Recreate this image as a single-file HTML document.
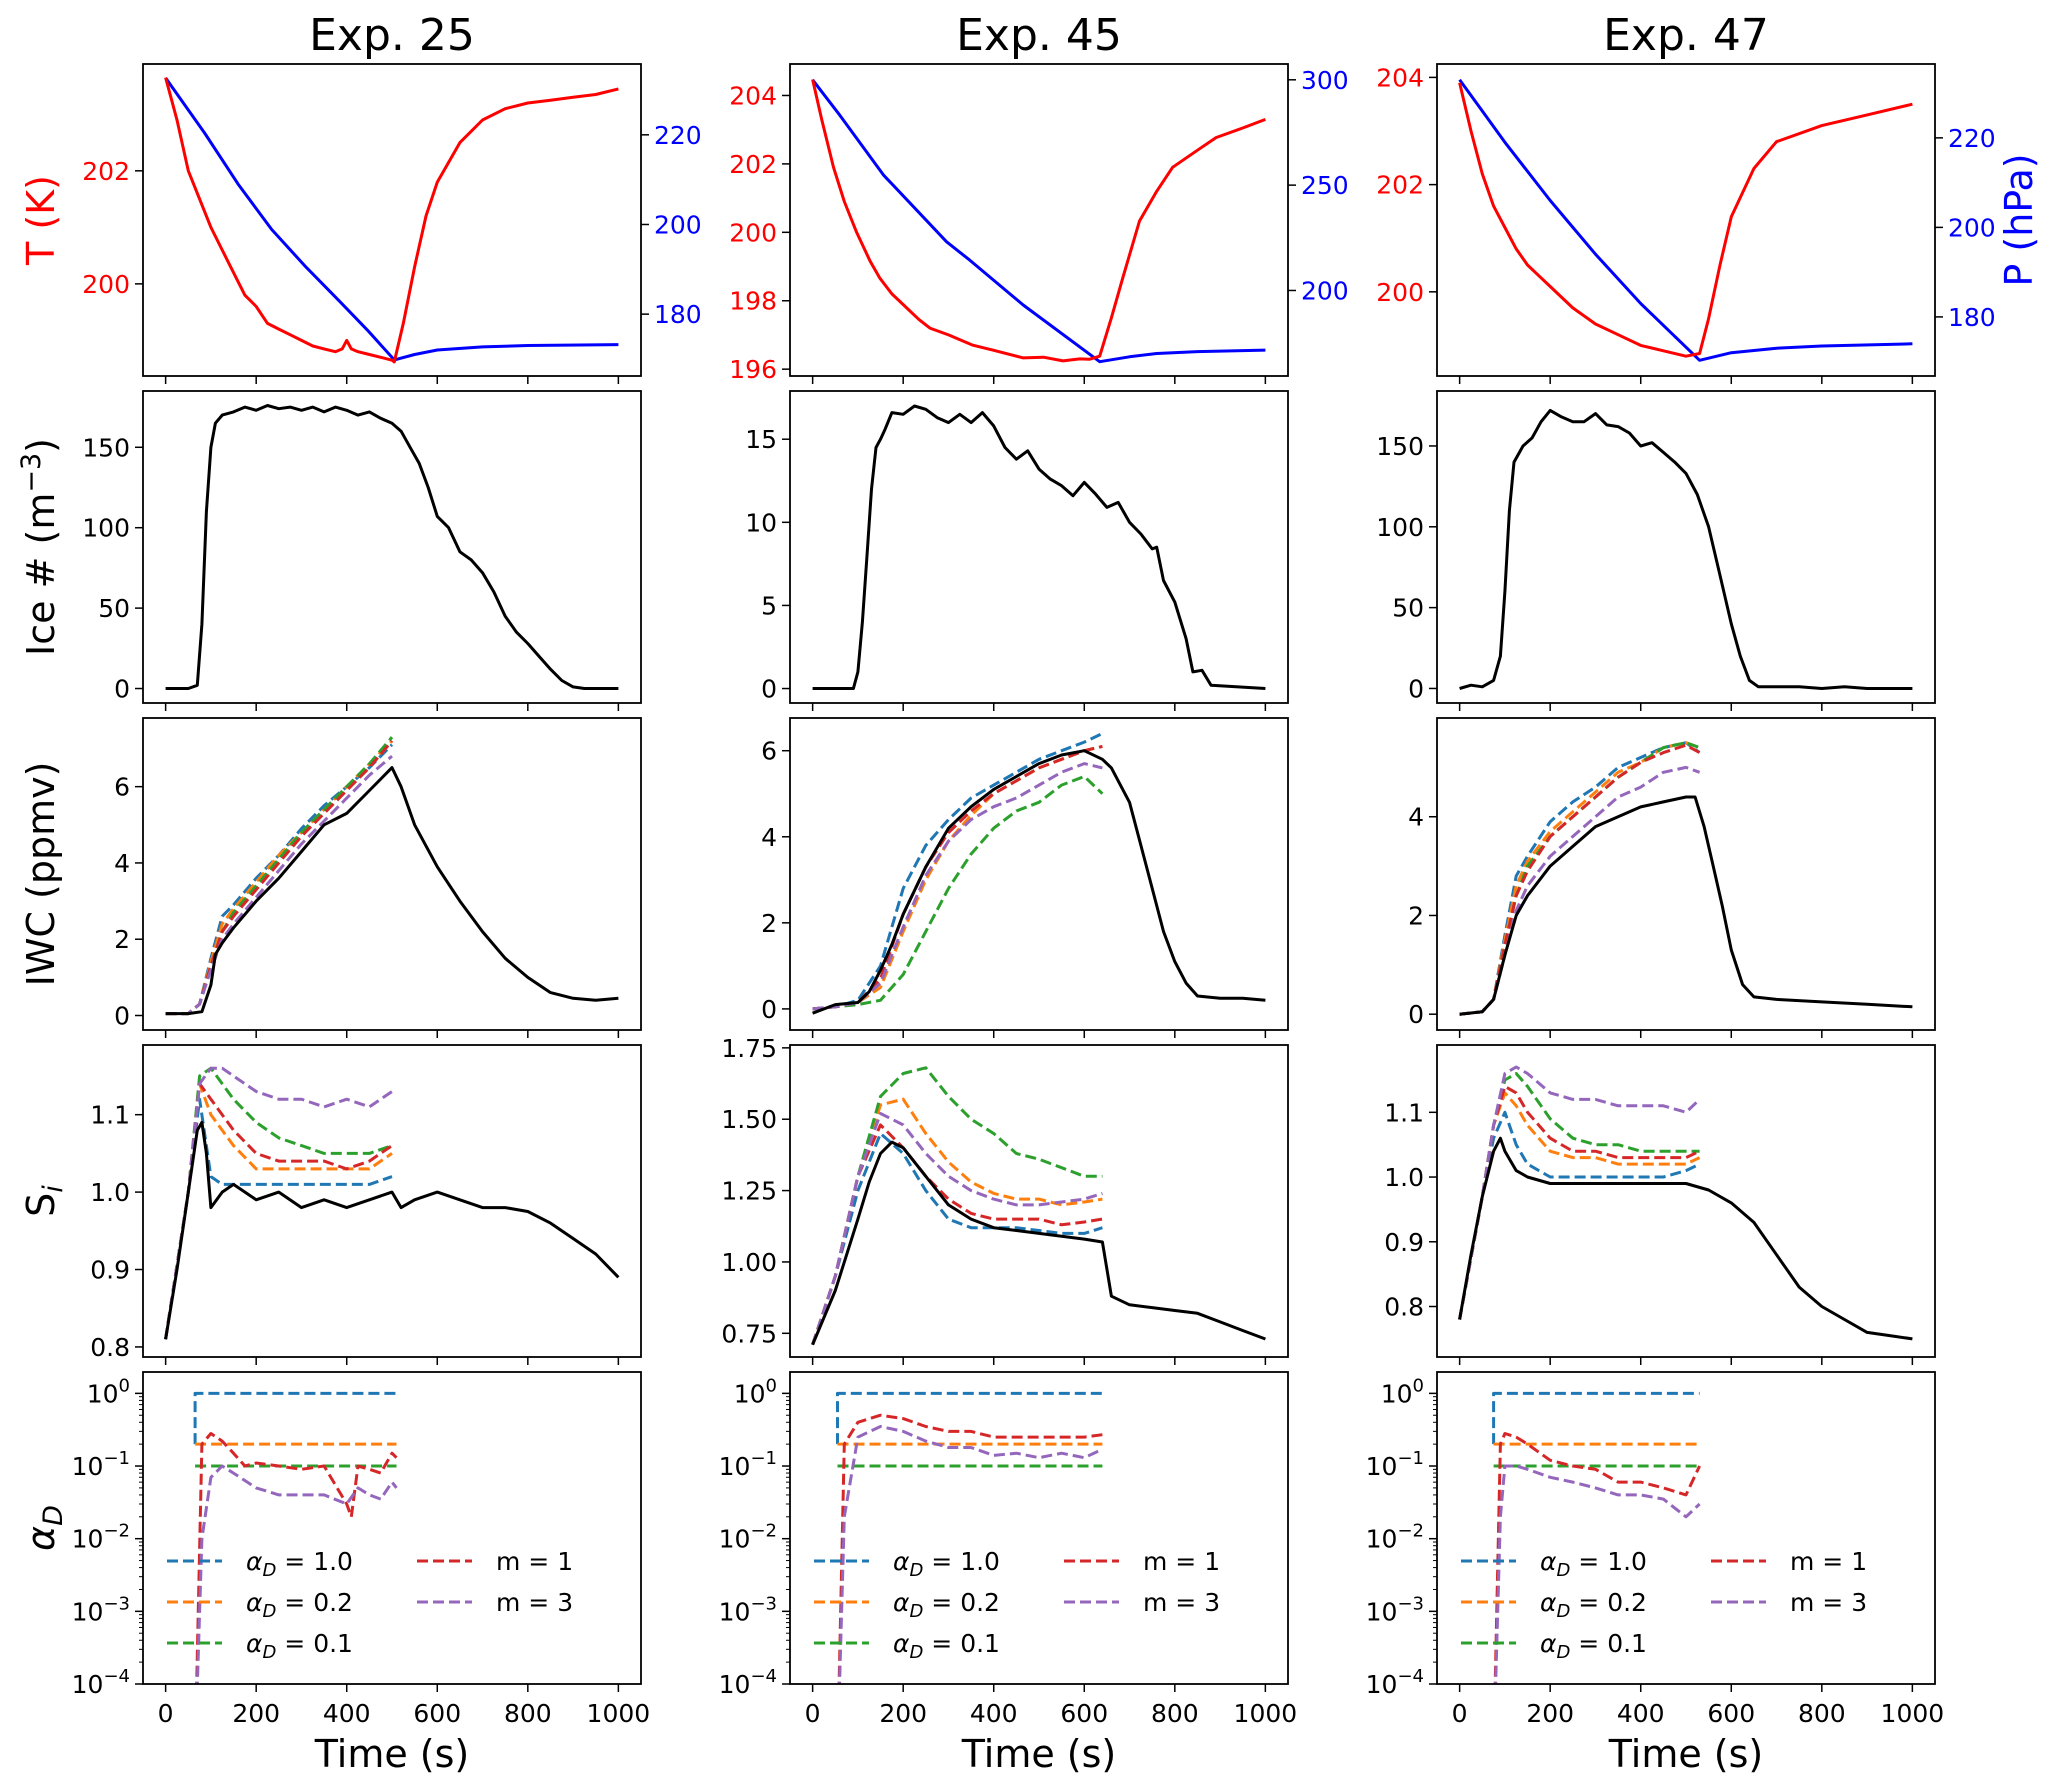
<!DOCTYPE html>
<html><head><meta charset="utf-8"><style>
html,body{margin:0;padding:0;background:#fff}
svg{display:block;font-family:"DejaVu Sans","Liberation Sans",sans-serif}
</style></head><body>
<svg id="fig" xmlns="http://www.w3.org/2000/svg" width="2067" height="1790" viewBox="0 0 2067 1790"></svg>
<script>
// ---------- DATA ----------
const titles = ["Exp. 25","Exp. 45","Exp. 47"];
const xTicks = [0,200,400,600,800,1000];
// Column 1 (Exp. 25)
const c1_T_t = [0,25,50,75,100,125,150,175,200,225,250,275,300,325,350,375,390,400,410,425,450,475,500,505,525,550,575,600,650,700,750,800,850,900,950,1000];
const c1_T_v = [203.65,202.9,202.0,201.5,201.0,200.6,200.2,199.8,199.6,199.3,199.2,199.1,199.0,198.9,198.85,198.8,198.85,199.0,198.85,198.8,198.75,198.7,198.65,198.62,199.3,200.3,201.2,201.8,202.5,202.9,203.1,203.2,203.25,203.3,203.35,203.45];
const c1_P_t = [0,86,160,234,310,383,445,505,550,600,700,800,1000];
const c1_P_v = [232.7,220.4,209,198.9,190.5,183,176.5,169.8,171,172,172.7,173,173.2];
const c1_ice_t = [0,50,70,80,90,100,110,125,150,175,200,225,250,275,300,325,350,375,400,425,450,475,500,520,540,560,580,600,625,650,675,700,725,750,775,800,825,850,875,900,925,950,1000];
const c1_ice_v = [0,0,2,40,110,150,165,170,172,175,173,176,174,175,173,175,172,175,173,170,172,168,165,160,150,140,125,107,100,85,80,72,60,45,35,28,20,12,5,1,0,0,0];
const c1_iwc_t = [0,50,80,100,110,125,150,200,250,300,350,400,450,500,520,550,600,650,700,750,800,850,900,950,1000];
const c1_iwc_v = [0.05,0.05,0.1,0.8,1.6,1.9,2.3,3.0,3.6,4.3,5.0,5.3,5.9,6.5,6.0,5.0,3.9,3.0,2.2,1.5,1.0,0.6,0.45,0.4,0.45];
const c1_mt = [0,50,75,100,125,150,200,250,300,350,400,450,500];
const c1_iwc_a10 = [0.05,0.05,0.3,1.5,2.6,2.9,3.6,4.2,4.9,5.5,6.0,6.5,7.1];
const c1_iwc_a02 = [0.05,0.05,0.3,1.4,2.4,2.8,3.5,4.2,4.8,5.4,6.0,6.6,7.2];
const c1_iwc_a01 = [0.05,0.05,0.3,1.3,2.2,2.7,3.4,4.1,4.8,5.4,6.0,6.6,7.3];
const c1_iwc_m1 = [0.05,0.05,0.3,1.3,2.2,2.6,3.3,4.0,4.7,5.3,5.9,6.5,7.2];
const c1_iwc_m3 = [0.05,0.05,0.3,1.2,2.0,2.4,3.1,3.8,4.5,5.1,5.7,6.3,6.8];
const c1_si_t = [0,25,50,70,80,90,100,125,150,200,250,300,350,400,450,500,520,550,600,650,700,750,800,850,900,950,1000];
const c1_si_v = [0.81,0.9,1.0,1.08,1.09,1.05,0.98,1.0,1.01,0.99,1.0,0.98,0.99,0.98,0.99,1.0,0.98,0.99,1.0,0.99,0.98,0.98,0.975,0.96,0.94,0.92,0.89];
const c1_si_a10 = [0.81,1.0,1.12,1.02,1.01,1.01,1.01,1.01,1.01,1.01,1.01,1.01,1.02];
const c1_si_a02 = [0.81,1.0,1.14,1.1,1.08,1.06,1.03,1.03,1.03,1.03,1.03,1.03,1.05];
const c1_si_a01 = [0.81,1.0,1.15,1.16,1.14,1.12,1.09,1.07,1.06,1.05,1.05,1.05,1.06];
const c1_si_m1 = [0.81,1.0,1.14,1.12,1.1,1.08,1.05,1.04,1.04,1.04,1.03,1.04,1.06];
const c1_si_m3 = [0.81,1.0,1.14,1.16,1.16,1.15,1.13,1.12,1.12,1.11,1.12,1.11,1.13];
const c1_al_t0 = 65, c1_al_end = 510;
const c1_al_m1_t = [65,80,100,125,150,175,200,250,300,350,400,410,425,450,475,500,510];
const c1_al_m1_v = [0.00001,0.2,0.28,0.22,0.15,0.1,0.11,0.1,0.09,0.1,0.03,0.02,0.1,0.09,0.08,0.15,0.13];
const c1_al_m3_t = [65,80,100,125,150,200,250,300,350,400,425,450,475,500,510];
const c1_al_m3_v = [0.00001,0.01,0.07,0.1,0.08,0.05,0.04,0.04,0.04,0.03,0.05,0.04,0.035,0.06,0.05];
// Column 2 (Exp. 45)
const c2_T_t = [0,20,46,70,97,127,148,175,207,235,259,300,354,400,465,510,553,590,612,634,660,685,722,760,795,850,891,950,1000];
const c2_T_v = [204.47,203.3,201.9,200.9,200.0,199.16,198.67,198.2,197.8,197.45,197.2,197.0,196.7,196.55,196.33,196.35,196.24,196.3,196.29,196.38,197.5,198.67,200.33,201.2,201.9,202.4,202.77,203.05,203.3];
const c2_P_t = [0,60,156,296,347,465,634,700,760,850,1000];
const c2_P_v = [300,283.2,254.9,223.1,214.4,193.1,166.2,168.5,170.1,171,171.7];
const c2_ice_t = [0,90,100,110,120,130,140,150,160,175,200,225,250,275,300,325,350,375,400,425,450,475,500,525,550,575,600,625,650,675,700,725,750,760,775,800,825,840,860,880,1000];
const c2_ice_v = [0,0,1,4,8,12,14.5,15,15.6,16.6,16.5,17,16.8,16.3,16,16.5,16,16.6,15.8,14.5,13.8,14.3,13.2,12.6,12.2,11.6,12.4,11.7,10.9,11.2,10,9.3,8.4,8.5,6.5,5.2,3,1,1.1,0.2,0];
const c2_iwc_t = [0,50,100,125,150,175,200,250,300,350,400,450,500,550,600,640,660,700,725,750,775,800,825,850,900,950,1000];
const c2_iwc_v = [-0.1,0.1,0.15,0.4,0.9,1.5,2.2,3.3,4.2,4.7,5.1,5.4,5.7,5.9,6.0,5.8,5.6,4.8,3.8,2.8,1.8,1.1,0.6,0.3,0.25,0.25,0.2];
const c2_mt = [0,50,100,150,200,250,300,350,400,450,500,550,600,640];
const c2_iwc_a10 = [0,0.05,0.2,1.0,2.8,3.8,4.4,4.9,5.2,5.5,5.8,6.0,6.2,6.4];
const c2_iwc_a02 = [0,0.05,0.15,0.5,1.8,3.0,3.9,4.5,5.0,5.3,5.6,5.8,6.0,6.1];
const c2_iwc_a01 = [0,0.05,0.1,0.2,0.8,1.8,2.8,3.6,4.2,4.6,4.8,5.2,5.4,5.0];
const c2_iwc_m1 = [0,0.05,0.15,0.7,2.2,3.3,4.1,4.6,5.0,5.3,5.6,5.8,6.0,6.1];
const c2_iwc_m3 = [0,0.05,0.15,0.6,1.9,3.1,3.9,4.4,4.7,4.9,5.2,5.5,5.7,5.6];
const c2_si_t = [0,50,100,125,150,175,200,250,300,350,400,450,500,550,600,640,660,700,750,800,850,900,950,1000];
const c2_si_v = [0.71,0.9,1.15,1.28,1.38,1.42,1.4,1.3,1.2,1.15,1.12,1.11,1.1,1.09,1.08,1.07,0.88,0.85,0.84,0.83,0.82,0.79,0.76,0.73];
const c2_si_a10 = [0.71,0.95,1.25,1.45,1.38,1.25,1.15,1.12,1.12,1.12,1.11,1.1,1.1,1.12];
const c2_si_a02 = [0.71,0.95,1.3,1.55,1.57,1.45,1.35,1.28,1.24,1.22,1.22,1.2,1.21,1.22];
const c2_si_a01 = [0.71,0.95,1.3,1.58,1.66,1.68,1.58,1.5,1.45,1.38,1.36,1.33,1.3,1.3];
const c2_si_m1 = [0.71,0.95,1.3,1.48,1.4,1.3,1.22,1.17,1.15,1.15,1.15,1.13,1.14,1.15];
const c2_si_m3 = [0.71,0.95,1.3,1.52,1.48,1.38,1.3,1.25,1.22,1.2,1.2,1.21,1.22,1.24];
const c2_al_t0 = 55, c2_al_end = 640;
const c2_al_m1_t = [55,70,100,150,200,250,300,350,400,450,500,550,600,640];
const c2_al_m1_v = [0.00001,0.2,0.4,0.5,0.45,0.35,0.3,0.3,0.25,0.25,0.25,0.25,0.25,0.27];
const c2_al_m3_t = [55,70,100,150,200,250,300,350,400,450,500,550,600,640];
const c2_al_m3_v = [0.00001,0.02,0.25,0.35,0.3,0.22,0.18,0.18,0.14,0.15,0.13,0.15,0.13,0.17];
// Column 3 (Exp. 47)
const c3_T_t = [0,25,50,75,100,125,150,175,200,250,300,350,400,450,500,530,550,575,600,650,700,800,900,1000];
const c3_T_v = [203.9,203.0,202.2,201.6,201.2,200.8,200.5,200.3,200.1,199.7,199.4,199.2,199.0,198.9,198.8,198.85,199.5,200.5,201.4,202.3,202.8,203.1,203.3,203.5];
const c3_P_t = [0,50,100,200,300,400,530,600,700,800,1000];
const c3_P_v = [233,226,219,206,194,183,170.3,172,173,173.5,174];
const c3_ice_t = [0,25,50,75,90,100,110,120,140,160,180,200,225,250,275,300,325,350,375,400,425,450,475,500,525,550,575,600,620,640,660,700,750,800,850,900,1000];
const c3_ice_v = [0,2,1,5,20,60,110,140,150,155,165,172,168,165,165,170,163,162,158,150,152,146,140,133,120,100,70,40,20,5,1,1,1,0,1,0,0];
const c3_iwc_t = [0,50,75,100,125,150,200,250,300,350,400,450,500,520,540,560,580,600,625,650,700,800,900,1000];
const c3_iwc_v = [0,0.05,0.3,1.2,2.0,2.4,3.0,3.4,3.8,4.0,4.2,4.3,4.4,4.4,3.8,3.0,2.2,1.3,0.6,0.35,0.3,0.25,0.2,0.15];
const c3_mt = [0,50,75,100,125,150,200,250,300,350,400,450,500,530];
const c3_iwc_a10 = [0,0.05,0.3,1.6,2.8,3.2,3.9,4.3,4.6,5.0,5.2,5.4,5.5,5.3];
const c3_iwc_a02 = [0,0.05,0.3,1.5,2.6,3.1,3.7,4.1,4.5,4.9,5.1,5.4,5.5,5.4];
const c3_iwc_a01 = [0,0.05,0.3,1.4,2.4,3.0,3.6,4.0,4.4,4.8,5.1,5.4,5.5,5.4];
const c3_iwc_m1 = [0,0.05,0.3,1.4,2.4,2.9,3.6,4.0,4.4,4.8,5.1,5.3,5.45,5.3];
const c3_iwc_m3 = [0,0.05,0.3,1.2,2.1,2.6,3.2,3.6,4.0,4.4,4.6,4.9,5.0,4.9];
const c3_si_t = [0,25,50,75,90,100,125,150,200,250,300,350,400,450,500,550,600,650,700,750,800,850,900,950,1000];
const c3_si_v = [0.78,0.88,0.97,1.04,1.06,1.04,1.01,1.0,0.99,0.99,0.99,0.99,0.99,0.99,0.99,0.98,0.96,0.93,0.88,0.83,0.8,0.78,0.76,0.755,0.75];
const c3_si_a10 = [0.78,0.97,1.06,1.1,1.05,1.02,1.0,1.0,1.0,1.0,1.0,1.0,1.01,1.02];
const c3_si_a02 = [0.78,0.97,1.08,1.13,1.11,1.08,1.04,1.03,1.03,1.02,1.02,1.02,1.02,1.03];
const c3_si_a01 = [0.78,0.97,1.08,1.15,1.16,1.14,1.09,1.06,1.05,1.05,1.04,1.04,1.04,1.04];
const c3_si_m1 = [0.78,0.97,1.08,1.14,1.13,1.1,1.06,1.04,1.04,1.03,1.03,1.03,1.03,1.04];
const c3_si_m3 = [0.78,0.97,1.08,1.16,1.17,1.16,1.13,1.12,1.12,1.11,1.11,1.11,1.1,1.12];
const c3_al_t0 = 75, c3_al_end = 530;
const c3_al_m1_t = [75,90,100,125,150,200,250,300,350,400,450,500,530];
const c3_al_m1_v = [0.00001,0.2,0.28,0.25,0.2,0.12,0.1,0.09,0.06,0.06,0.05,0.04,0.1];
const c3_al_m3_t = [75,90,100,125,150,200,250,300,350,400,450,500,530];
const c3_al_m3_v = [0.00001,0.02,0.1,0.1,0.09,0.07,0.06,0.05,0.04,0.04,0.035,0.02,0.03];
// axis limits & ticks
const tLim = [[198.37,203.89],[195.8,204.92],[198.43,204.25]];
const tTicks = [[200,202],[196,198,200,202,204],[200,202,204]];
const pLim = [[166.2,235.8],[159.4,307.5],[166.8,236.5]];
const pTicks = [[180,200,220],[200,250,300],[180,200,220]];
const iceLim = [[-9,185],[-0.87,17.9],[-9,184]];
const iceTicks = [[0,50,100,150],[0,5,10,15],[0,50,100,150]];
const iwcLim = [[-0.38,7.8],[-0.49,6.76],[-0.32,6.0]];
const iwcTicks = [[0,2,4,6],[0,2,4,6],[0,2,4]];
const siLim = [[0.787,1.19],[0.667,1.76],[0.722,1.204]];
const siTicks = [[0.8,0.9,1.0,1.1],[0.75,1.0,1.25,1.5,1.75],[0.8,0.9,1.0,1.1]];
const siTickLabels = [["0.8","0.9","1.0","1.1"],["0.75","1.00","1.25","1.50","1.75"],["0.8","0.9","1.0","1.1"]];
const alphaExp = [0,-1,-2,-3,-4];
const alphaConst = [1.0,0.2,0.1];

// ---------- DRAWING ----------
const NS="http://www.w3.org/2000/svg";
const svg=document.getElementById('fig');
const colLeft=[143,790,1437], PW=498, rowTop=r=>64+r*327, PH=312;
const C={blue:"#1f77b4",orange:"#ff7f0e",green:"#2ca02c",red:"#d62728",purple:"#9467bd"};
function mk(tag,attrs,parent){const e=document.createElementNS(NS,tag);for(const k in attrs)e.setAttribute(k,attrs[k]);(parent||svg).appendChild(e);return e;}
function txt(s,x,y,size,fill,anchor,parent){const e=mk('text',{x:x,y:y,'font-size':size,fill:fill||'#000','text-anchor':anchor||'middle'},parent);e.textContent=s;return e;}
const D={
 1:{T:[c1_T_t,c1_T_v],P:[c1_P_t,c1_P_v],ice:[c1_ice_t,c1_ice_v],iwc:[c1_iwc_t,c1_iwc_v],mt:c1_mt,iwcM:[c1_iwc_a10,c1_iwc_a02,c1_iwc_a01,c1_iwc_m1,c1_iwc_m3],si:[c1_si_t,c1_si_v],siM:[c1_si_a10,c1_si_a02,c1_si_a01,c1_si_m1,c1_si_m3],t0:c1_al_t0,tend:c1_al_end,m1:[c1_al_m1_t,c1_al_m1_v],m3:[c1_al_m3_t,c1_al_m3_v]},
 2:{T:[c2_T_t,c2_T_v],P:[c2_P_t,c2_P_v],ice:[c2_ice_t,c2_ice_v],iwc:[c2_iwc_t,c2_iwc_v],mt:c2_mt,iwcM:[c2_iwc_a10,c2_iwc_a02,c2_iwc_a01,c2_iwc_m1,c2_iwc_m3],si:[c2_si_t,c2_si_v],siM:[c2_si_a10,c2_si_a02,c2_si_a01,c2_si_m1,c2_si_m3],t0:c2_al_t0,tend:c2_al_end,m1:[c2_al_m1_t,c2_al_m1_v],m3:[c2_al_m3_t,c2_al_m3_v]},
 3:{T:[c3_T_t,c3_T_v],P:[c3_P_t,c3_P_v],ice:[c3_ice_t,c3_ice_v],iwc:[c3_iwc_t,c3_iwc_v],mt:c3_mt,iwcM:[c3_iwc_a10,c3_iwc_a02,c3_iwc_a01,c3_iwc_m1,c3_iwc_m3],si:[c3_si_t,c3_si_v],siM:[c3_si_a10,c3_si_a02,c3_si_a01,c3_si_m1,c3_si_m3],t0:c3_al_t0,tend:c3_al_end,m1:[c3_al_m1_t,c3_al_m1_v],m3:[c3_al_m3_t,c3_al_m3_v]}
};
const modelColors=[C.blue,C.orange,C.green,C.red,C.purple];
const modelNames=['alpha-1','alpha-0.2','alpha-0.1','m-1','m-3'];
const DASH="11,5";
let clipId=0;
function line(g,xs,ys,xf,yf,color,w,dash,name){
  let d='';for(let i=0;i<xs.length;i++){d+=(i?'L':'M')+xf(xs[i]).toFixed(1)+','+yf(ys[i]).toFixed(1);}
  const p=mk('path',{d:d,fill:'none',stroke:color,'stroke-width':w,'stroke-linejoin':'round'},g);
  if(dash)p.setAttribute('stroke-dasharray',dash);
  
  
  return p;
}
for(let c=0;c<3;c++){
  const d=D[c+1];const L=colLeft[c];
  const xf=t=>L+(t+50)/1100*PW;
  const tt=mk('text',{x:L+PW/2,y:50,'font-size':44,'text-anchor':'middle'});tt.textContent=titles[c];
  
  
  for(let r=0;r<5;r++){
    const top=rowTop(r),bot=top+PH;
    const g=mk('g',{});
    
    
    clipId++;const cp=mk('clipPath',{id:'cp'+clipId},g);mk('rect',{x:L,y:top,width:PW,height:PH},cp);
    const pg=mk('g',{'clip-path':'url(#cp'+clipId+')'},g);
    xTicks.forEach(v=>{mk('line',{x1:xf(v),x2:xf(v),y1:bot,y2:bot+8,stroke:'#000','stroke-width':1.5},g);
      if(r===4){const e=txt(String(v),xf(v),bot+38,25,'#000','middle',g);}});
    const lin=(lim)=>v=>bot-(v-lim[0])/(lim[1]-lim[0])*PH;
    const leftTicks=(ticks,yf,labels,color)=>ticks.forEach((v,i)=>{const y=yf(v);mk('line',{x1:L-8,x2:L,y1:y,y2:y,stroke:'#000','stroke-width':1.5},g);
      const e=txt(labels?labels[i]:String(v),L-13,y+9,25,color||'#000','end',g);});
    if(r===0){
      const yT=lin(tLim[c]),yP=lin(pLim[c]);
      leftTicks(tTicks[c],yT,null,'#ff0000');
      pTicks[c].forEach(v=>{const y=yP(v);mk('line',{x1:L+PW,x2:L+PW+8,y1:y,y2:y,stroke:'#000','stroke-width':1.5},g);
        const e=txt(String(v),L+PW+13,y+9,25,'#0000ff','start',g);});
      line(pg,d.P[0],d.P[1],xf,yP,'#0000ff',3,null,'pressure-line');
      line(pg,d.T[0],d.T[1],xf,yT,'#ff0000',3,null,'temperature-line');
    } else if(r===1){
      const y=lin(iceLim[c]);leftTicks(iceTicks[c],y);
      line(pg,d.ice[0],d.ice[1],xf,y,'#000',3,null,'ice-number-line');
    } else if(r===2){
      const y=lin(iwcLim[c]);leftTicks(iwcTicks[c],y);
      d.iwcM.forEach((m,i)=>line(pg,d.mt,m,xf,y,modelColors[i],3,DASH,'iwc-'+modelNames[i]));
      line(pg,d.iwc[0],d.iwc[1],xf,y,'#000',3,null,'iwc-observed-line');
    } else if(r===3){
      const y=lin(siLim[c]);leftTicks(siTicks[c],y,siTickLabels[c]);
      d.siM.forEach((m,i)=>line(pg,d.mt,m,xf,y,modelColors[i],3,DASH,'si-'+modelNames[i]));
      line(pg,d.si[0],d.si[1],xf,y,'#000',3,null,'si-observed-line');
    } else {
      const top10=0.294;const y=v=>bot-(Math.log10(Math.max(v,1e-6))+4)/(top10+4)*PH;
      alphaExp.forEach(e=>{const yy=y(Math.pow(10,e));mk('line',{x1:L-8,x2:L,y1:yy,y2:yy,stroke:'#000','stroke-width':1.5},g);
        const t=mk('text',{x:L-13,y:yy+9,'font-size':25,'text-anchor':'end'},g);
        
        const a=mk('tspan',{},t);a.textContent='10';const b=mk('tspan',{dy:-11,'font-size':18},t);b.textContent=e===0?'0':'\u2212'+(-e);
        for(let k=2;k<10&&e<0;k++){const ym=y(k*Math.pow(10,e));mk('line',{x1:L-4,x2:L,y1:ym,y2:ym,stroke:'#000','stroke-width':1},g);} });
      for(let k=2;k<10;k++){const ym=y(k);if(ym>=top)mk('line',{x1:L-4,x2:L,y1:ym,y2:ym,stroke:'#000','stroke-width':1},g);}
      alphaConst.forEach((v,i)=>line(pg,[d.t0,d.t0,d.tend],[i===0?0.2:v,v,v],xf,y,modelColors[i],3,DASH,modelNames[i]+'-line'));
      line(pg,d.m1[0],d.m1[1],xf,y,C.red,3,DASH,'m-1-line');
      line(pg,d.m3[0],d.m3[1],xf,y,C.purple,3,DASH,'m-3-line');
      const lg=mk('g',{},g);
      const ents=[[0,0,C.blue,'1.0',true],[0,1,C.orange,'0.2',true],[0,2,C.green,'0.1',true],[1,0,C.red,'m = 1',false],[1,1,C.purple,'m = 3',false]];
      ents.forEach(en=>{const ex=L+24+en[0]*250, ey=top+189+en[1]*41;
        const eg=mk('g',{},lg);
        mk('line',{x1:ex,x2:ex+55,y1:ey,y2:ey,stroke:en[2],'stroke-width':3,'stroke-dasharray':DASH},eg);
        const t=mk('text',{x:ex+79,y:ey+9,'font-size':25},eg);
        if(en[4]){const a=mk('tspan',{'font-style':'italic'},t);a.textContent='\u03b1';const b=mk('tspan',{'font-size':18,'font-style':'italic',dy:6},t);b.textContent='D';const c2=mk('tspan',{dy:-6},t);c2.textContent=' = '+en[3];}
        else t.textContent=en[3];});
    }
    const fr=mk('rect',{x:L,y:top,width:PW,height:PH,fill:'none',stroke:'#000','stroke-width':1.8},g);
    
  }
  const xl=txt('Time (s)',L+PW/2,1767,38,'#000','middle');
  
}
function ylab(s,cy,color,x,name){const t=mk('text',{x:x,y:cy,'font-size':38,fill:color,'text-anchor':'middle',transform:'rotate(-90 '+x+' '+cy+')'});t.textContent=s;return t;}
ylab('T (K)',rowTop(0)+PH/2,'#ff0000',54,'t-axis-title');
const il=ylab('Ice # (m',rowTop(1)+PH/2,'#000',54,'ice-axis-title');
{const s=mk('tspan',{dy:-14,'font-size':27},il);s.textContent='\u22123';const p=mk('tspan',{dy:14},il);p.textContent=')';}
ylab('IWC (ppmv)',rowTop(2)+PH/2,'#000',54,'iwc-axis-title');
{const t=ylab('S',rowTop(3)+PH/2,'#000',54,'si-axis-title');const s=mk('tspan',{'font-size':27,'font-style':'italic',dy:8},t);s.textContent='i';}
{const t=ylab('',rowTop(4)+PH/2,'#000',54,'alpha-axis-title');const a=mk('tspan',{'font-style':'italic'},t);a.textContent='\u03b1';const s=mk('tspan',{'font-size':27,'font-style':'italic',dy:8},t);s.textContent='D';}
ylab('P (hPa)',rowTop(0)+PH/2,'#0000ff',2032,'p-axis-title');
</script>
</body></html>
